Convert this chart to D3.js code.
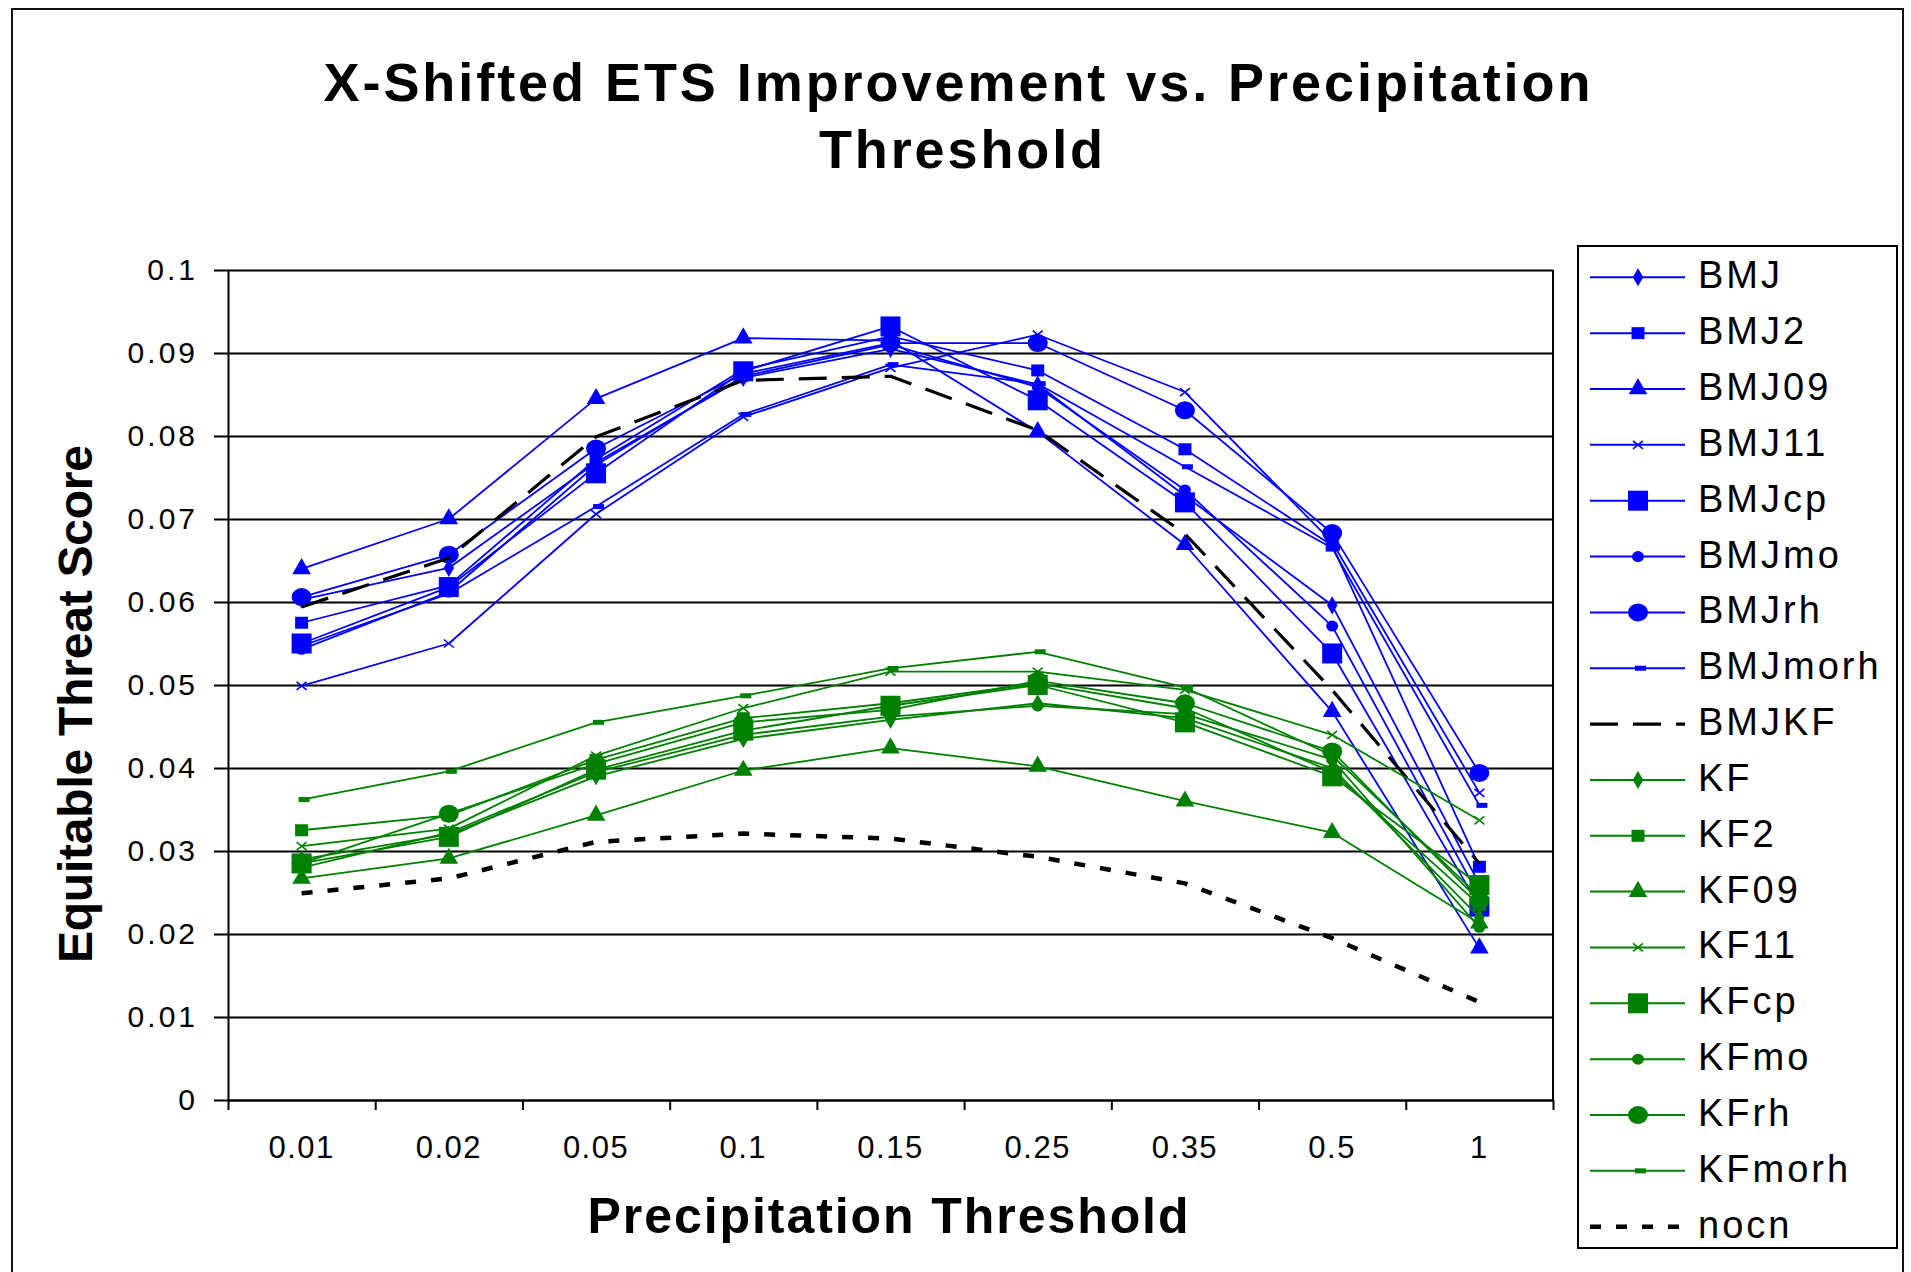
<!DOCTYPE html>
<html><head><meta charset="utf-8">
<script src="https://cdn.jsdelivr.net/npm/d3@7"></script>
<style>
body{margin:0;background:#fff}
svg{display:block}
text{font-family:"Liberation Sans",Arial,sans-serif;fill:#000}
</style>
</head><body>
<svg id="chart" width="1911" height="1272"></svg>
<script>
// ---------- DATA ----------
const categories = ["0.01","0.02","0.05","0.1","0.15","0.25","0.35","0.5","1"];
const yTickValues = [0,0.01,0.02,0.03,0.04,0.05,0.06,0.07,0.08,0.09,0.1];
const yTickLabels = ["0","0.01","0.02","0.03","0.04","0.05","0.06","0.07","0.08","0.09","0.1"];
const seriesNames = ["BMJ","BMJ2","BMJ09","BMJ11","BMJcp","BMJmo","BMJrh","BMJmorh","BMJKF",
                     "KF","KF2","KF09","KF11","KFcp","KFmo","KFrh","KFmorh","nocn"];

const BMJ     = [0.0603,0.0641,0.0768,0.0870,0.0905,0.0862,0.0728,0.0596,0.0260];
const BMJ2    = [0.0575,0.0620,0.0772,0.0880,0.0920,0.0879,0.0784,0.0668,0.0281];
const BMJ09   = [0.0640,0.0700,0.0845,0.0918,0.0915,0.0805,0.0669,0.0468,0.0183];
const BMJ11   = [0.0499,0.0550,0.0706,0.0823,0.0882,0.0922,0.0853,0.0672,0.0370];
const BMJcp   = [0.0550,0.0618,0.0755,0.0878,0.0932,0.0843,0.0720,0.0538,0.0233];
const BMJmo   = [0.0543,0.0612,0.0765,0.0872,0.0910,0.0859,0.0735,0.0571,0.0245];
const BMJrh   = [0.0606,0.0657,0.0785,0.0875,0.0912,0.0912,0.0831,0.0683,0.0394];
const BMJmorh = [0.0547,0.0610,0.0715,0.0826,0.0886,0.0863,0.0763,0.0665,0.0355];
const BMJKF   = [0.0594,0.0653,0.0799,0.0867,0.0872,0.0807,0.0682,0.0494,0.0285];
const KF      = [0.0290,0.0320,0.0390,0.0435,0.0458,0.0478,0.0460,0.0400,0.0220];
const KF2     = [0.0325,0.0343,0.0410,0.0460,0.0478,0.0502,0.0472,0.0395,0.0235];
const KF09    = [0.0267,0.0291,0.0343,0.0397,0.0424,0.0402,0.0360,0.0322,0.0213];
const KF11    = [0.0306,0.0327,0.0415,0.0472,0.0516,0.0516,0.0494,0.0440,0.0337];
const KFcp    = [0.0285,0.0317,0.0398,0.0445,0.0475,0.0500,0.0455,0.0390,0.0259];
const KFmo    = [0.0280,0.0322,0.0395,0.0440,0.0462,0.0475,0.0465,0.0410,0.0208];
const KFrh    = [0.0285,0.0345,0.0405,0.0455,0.0470,0.0505,0.0478,0.0420,0.0240];
const KFmorh  = [0.0362,0.0396,0.0455,0.0487,0.0520,0.0540,0.0497,0.0415,0.0245];
const nocn    = [0.0249,0.0267,0.0311,0.0321,0.0315,0.0293,0.0261,0.0195,0.0118];

const seriesValues = [BMJ,BMJ2,BMJ09,BMJ11,BMJcp,BMJmo,BMJrh,BMJmorh,BMJKF,
                      KF,KF2,KF09,KF11,KFcp,KFmo,KFrh,KFmorh,nocn];

// ---------- STYLES ----------
const BLUE = "#0000ff", GREEN = "#008000", BLACK = "#000";
const markerOrder = ["diamond","sqS","tri","x","sqL","dot","circ","dash"];
function styleFor(name, i){
  if (name === "BMJKF") return {color:BLACK, marker:null, dash:"28,15", width:3.2};
  if (name === "nocn")  return {color:BLACK, marker:null, dash:"11,15", width:4.5};
  const isB = i < 8;
  return {color: isB?BLUE:GREEN, marker: markerOrder[isB? i : i-9], dash:null, width:1.8};
}

// ---------- LAYOUT ----------
const svg = d3.select("#chart");
const L = 228, R = 1553, T = 270, B = 1100;

svg.append("rect").attr("x",0).attr("y",0).attr("width",1911).attr("height",1272).attr("fill","#fff");
svg.append("rect").attr("x",12).attr("y",9).attr("width",1891).attr("height",1300)
  .attr("fill","none").attr("stroke","#111").attr("stroke-width",2);

const x = d3.scaleBand().domain(categories).range([L,R]).padding(0);
const xEdge = d3.scaleLinear().domain([0,categories.length]).range([L,R]);
const y = d3.scaleLinear().domain([0,0.1]).range([B,T]);

const yAxis = svg.append("g").attr("transform",`translate(${L},0)`)
  .call(d3.axisLeft(y).tickValues(yTickValues).tickSizeInner(-(R-L)).tickSizeOuter(0)
        .tickPadding(30).tickFormat((d,i)=>yTickLabels[i]));
yAxis.selectAll(".tick line").attr("x1",-14).attr("stroke","#000").attr("stroke-width",2);
yAxis.select(".domain").attr("stroke","#000").attr("stroke-width",2);
yAxis.selectAll("text").attr("font-size",30).attr("letter-spacing","3px");

svg.append("line").attr("x1",R).attr("x2",R).attr("y1",T).attr("y2",B)
  .attr("stroke","#000").attr("stroke-width",2);

const xAxis = svg.append("g").attr("transform",`translate(0,${B})`)
  .call(d3.axisBottom(x).tickSize(0).tickPadding(36));
xAxis.select(".domain").attr("stroke","#000").attr("stroke-width",2);
xAxis.selectAll("text").attr("font-size",31).attr("letter-spacing","1.5px");
const xTicks = svg.append("g").attr("transform",`translate(0,${B})`)
  .call(d3.axisBottom(xEdge).tickValues(d3.range(categories.length+1)).tickSize(10).tickFormat(""));
xTicks.select(".domain").remove();
xTicks.selectAll(".tick line").attr("stroke","#000").attr("stroke-width",2);

// ---------- MARKERS ----------
function drawMarker(g, type, color, cx, cy){
  switch(type){
    case "diamond":
      g.append("path").attr("d", d3.symbol(d3.symbolDiamond, 95)()).attr("transform",`translate(${cx},${cy})`).attr("fill",color); break;
    case "sqS":
      g.append("rect").attr("x",cx-6.5).attr("y",cy-6).attr("width",13).attr("height",12).attr("fill",color); break;
    case "tri":
      g.append("path").attr("d", d3.symbol(d3.symbolTriangle, 150)()).attr("transform",`translate(${cx},${cy})`).attr("fill",color); break;
    case "x":
      g.append("path").attr("d",`M${cx-5},${cy-4}L${cx+5},${cy+4}M${cx-5},${cy+4}L${cx+5},${cy-4}`)
        .attr("stroke",color).attr("stroke-width",1.6).attr("fill","none"); break;
    case "sqL":
      g.append("rect").attr("x",cx-10).attr("y",cy-10).attr("width",20).attr("height",20).attr("fill",color); break;
    case "dot":
      g.append("ellipse").attr("cx",cx).attr("cy",cy).attr("rx",6).attr("ry",5.5).attr("fill",color); break;
    case "circ":
      g.append("ellipse").attr("cx",cx).attr("cy",cy).attr("rx",10).attr("ry",9).attr("fill",color); break;
    case "dash":
      g.append("rect").attr("x",cx-3).attr("y",cy-2.5).attr("width",11).attr("height",5).attr("fill",color); break;
  }
}

// ---------- SERIES ----------
const line = d3.line().x((d,i)=>x(categories[i]) + x.bandwidth()/2).y(d=>y(d));
const plot = svg.append("g");
seriesNames.forEach((name, si)=>{
  const st = styleFor(name, si);
  const vals = seriesValues[si];
  const g = plot.append("g");
  g.append("path").datum(vals).attr("d", line).attr("fill","none")
    .attr("stroke", st.color).attr("stroke-width", st.width)
    .attr("stroke-dasharray", st.dash).attr("stroke-linejoin","round");
  if (st.marker) vals.forEach((v,i)=>drawMarker(g, st.marker, st.color, x(categories[i]) + x.bandwidth()/2, y(v)));
});

// ---------- TITLES ----------
svg.append("text").attr("x",957).attr("y",101).attr("text-anchor","middle")
  .attr("font-size",54).attr("font-weight","bold")
  .attr("textLength",1267).attr("lengthAdjust","spacing")
  .text("X-Shifted ETS Improvement vs. Precipitation");
svg.append("text").attr("x",961).attr("y",168).attr("text-anchor","middle")
  .attr("font-size",54).attr("font-weight","bold")
  .attr("textLength",284).attr("lengthAdjust","spacing")
  .text("Threshold");
svg.append("text").attr("transform","translate(92,704) rotate(-90)").attr("text-anchor","middle")
  .attr("font-size",48).attr("font-weight","bold")
  .attr("textLength",518).attr("lengthAdjust","spacing")
  .text("Equitable Threat Score");
svg.append("text").attr("x",888).attr("y",1233).attr("text-anchor","middle")
  .attr("font-size",50).attr("font-weight","bold")
  .attr("textLength",601).attr("lengthAdjust","spacing")
  .text("Precipitation Threshold");

// ---------- LEGEND ----------
const lg = svg.append("g");
lg.append("rect").attr("x",1578).attr("y",246).attr("width",319).attr("height",1002)
  .attr("fill","#fff").attr("stroke","#000").attr("stroke-width",2);
const legY = d3.scaleLinear().domain([0, seriesNames.length-1]).range([277.3, 1226.7]);
seriesNames.forEach((name, si)=>{
  const st = styleFor(name, si);
  const ly = legY(si);
  lg.append("line").attr("x1",1590).attr("x2",1685).attr("y1",ly).attr("y2",ly)
    .attr("stroke",st.color).attr("stroke-width", st.marker ? 2 : st.width)
    .attr("stroke-dasharray", st.dash);
  if (st.marker) drawMarker(lg, st.marker, st.color, 1638, ly);
  lg.append("text").attr("x",1698).attr("y",ly+11).attr("font-size",38)
    .attr("letter-spacing","3px").text(name);
});
</script>
</body></html>
